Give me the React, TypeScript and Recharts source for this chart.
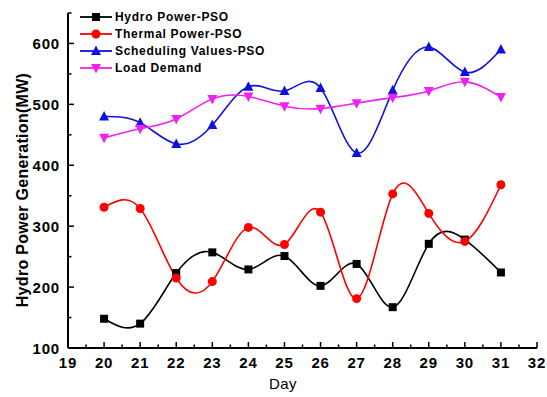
import React from 'react';
import { LineChart, Line, XAxis, YAxis } from 'recharts';

const days = [20, 21, 22, 23, 24, 25, 26, 27, 28, 29, 30, 31];
const hydro = [148, 140, 223, 257, 229, 251, 202, 238, 167, 271, 278, 224];
const thermal = [331, 329, 215, 209, 298, 270, 323, 181, 353, 321, 275, 368];
const scheduling = [480, 470, 435, 466, 529, 522, 527, 420, 523, 594, 553, 590];
const load = [445, 460, 476, 509, 513, 497, 493, 502, 511, 522, 537, 512];

const xTicks = [19, 19.5, 20, 20.5, 21, 21.5, 22, 22.5, 23, 23.5, 24, 24.5, 25, 25.5, 26, 26.5, 27, 27.5, 28, 28.5, 29, 29.5, 30, 30.5, 31, 31.5, 32];
const yTicks = [100, 150, 200, 250, 300, 350, 400, 450, 500, 550, 600, 650];

const data = days.map((d, i) => ({
  day: d,
  hydro: hydro[i],
  thermal: thermal[i],
  scheduling: scheduling[i],
  load: load[i],
}));

const FONT = '"Liberation Sans", Arial, sans-serif';

type Shape = 'square' | 'circle' | 'up' | 'down';

const Marker = ({ cx, cy, shape, color }: { cx: number; cy: number; shape: Shape; color: string }) => {
  if (shape === 'square') return <rect x={cx - 4} y={cy - 4} width={8} height={8} fill={color} />;
  if (shape === 'circle') return <circle cx={cx} cy={cy} r={4.5} fill={color} />;
  if (shape === 'up')
    return <polygon points={`${cx},${cy - 5.5} ${cx - 5},${cy + 4} ${cx + 5},${cy + 4}`} fill={color} />;
  return <polygon points={`${cx},${cy + 5.5} ${cx - 5},${cy - 4} ${cx + 5},${cy - 4}`} fill={color} />;
};

const series: { key: string; name: string; color: string; shape: Shape }[] = [
  { key: 'hydro', name: 'Hydro Power-PSO', color: '#000000', shape: 'square' },
  { key: 'thermal', name: 'Thermal Power-PSO', color: '#ff0000', shape: 'circle' },
  { key: 'scheduling', name: 'Scheduling Values-PSO', color: '#1010e0', shape: 'up' },
  { key: 'load', name: 'Load Demand', color: '#f020f0', shape: 'down' },
];

const XTick = (props: any) => {
  const { x, y, payload } = props;
  const v = payload.value;
  const major = Number.isInteger(v);
  return (
    <g>
      <line x1={x} x2={x} y1={y} y2={y - (major ? 6 : 3.5)} stroke="#000" strokeWidth={1.5} />
      {major && (
        <text x={x} y={y + 20} textAnchor="middle" fontFamily={FONT} fontWeight="bold" fontSize={15} letterSpacing={0.8} fill="#000">
          {v}
        </text>
      )}
    </g>
  );
};

const YTick = (props: any) => {
  const { x, y, payload } = props;
  const v = payload.value;
  const major = v % 100 === 0;
  return (
    <g>
      <line x1={x} x2={x + (major ? 6 : 3.5)} y1={y} y2={y} stroke="#000" strokeWidth={1.5} />
      {major && (
        <text x={x - 8} y={y + 5.5} textAnchor="end" fontFamily={FONT} fontWeight="bold" fontSize={15} letterSpacing={0.8} fill="#000">
          {v}
        </text>
      )}
    </g>
  );
};

const LegendBox = () => (
  <div
    style={{
      position: 'absolute',
      top: 9,
      left: 80,
      fontFamily: FONT,
      fontWeight: 'bold',
      fontSize: 12,
      letterSpacing: 0.7,
      color: '#000',
    }}
  >
    {series.map((s) => (
      <div key={s.key} style={{ display: 'flex', alignItems: 'center', height: 16.8 }}>
        <svg width={32} height={12} style={{ display: 'block' }}>
          <line x1={0} x2={32} y1={6} y2={6} stroke={s.color} strokeWidth={1.8} />
          <Marker cx={16} cy={6} shape={s.shape} color={s.color} />
        </svg>
        <span style={{ marginLeft: 3, lineHeight: '14px', whiteSpace: 'nowrap' }}>{s.name}</span>
      </div>
    ))}
  </div>
);

export default function App() {
  return (
    <div style={{ position: 'absolute', left: 0, top: 0, width: 547, height: 397, background: '#fff' }}>
      <LineChart width={547} height={397} data={data} margin={{ top: 13, right: 10, bottom: 19, left: 28 }}>
        <XAxis
          dataKey="day"
          type="number"
          domain={[19, 32]}
          ticks={xTicks}
          interval={0}
          tickSize={0}
          tickMargin={0}
          tick={<XTick />}
          height={30}
          axisLine={{ stroke: '#000', strokeWidth: 2 }}
          label={{
            content: () => (
              <text x={283} y={389} textAnchor="middle" fontFamily={FONT} fontSize={15} letterSpacing={0.5} fill="#000">
                Day
              </text>
            ),
          }}
        />
        <YAxis
          type="number"
          domain={[100, 650]}
          ticks={yTicks}
          interval={0}
          tickSize={0}
          tickMargin={0}
          tick={<YTick />}
          width={40}
          axisLine={{ stroke: '#000', strokeWidth: 2 }}
          label={{
            content: () => (
              <text
                x={22}
                y={190}
                transform="rotate(-90 22 190)"
                textAnchor="middle"
                dominantBaseline="central"
                fontFamily={FONT}
                fontWeight="bold"
                fontSize={16}
                letterSpacing={0.3}
                fill="#000"
              >
                Hydro Power Generation(MW)
              </text>
            ),
          }}
        />
        {series.map((s) => (
          <Line
            key={s.key}
            type="natural"
            dataKey={s.key}
            name={s.name}
            stroke={s.color}
            strokeWidth={1.6}
            isAnimationActive={false}
            dot={(p: any) => <Marker key={`${s.key}-${p.index}`} cx={p.cx} cy={p.cy} shape={s.shape} color={s.color} />}
            activeDot={false}
          />
        ))}
      </LineChart>
      <LegendBox />
    </div>
  );
}
